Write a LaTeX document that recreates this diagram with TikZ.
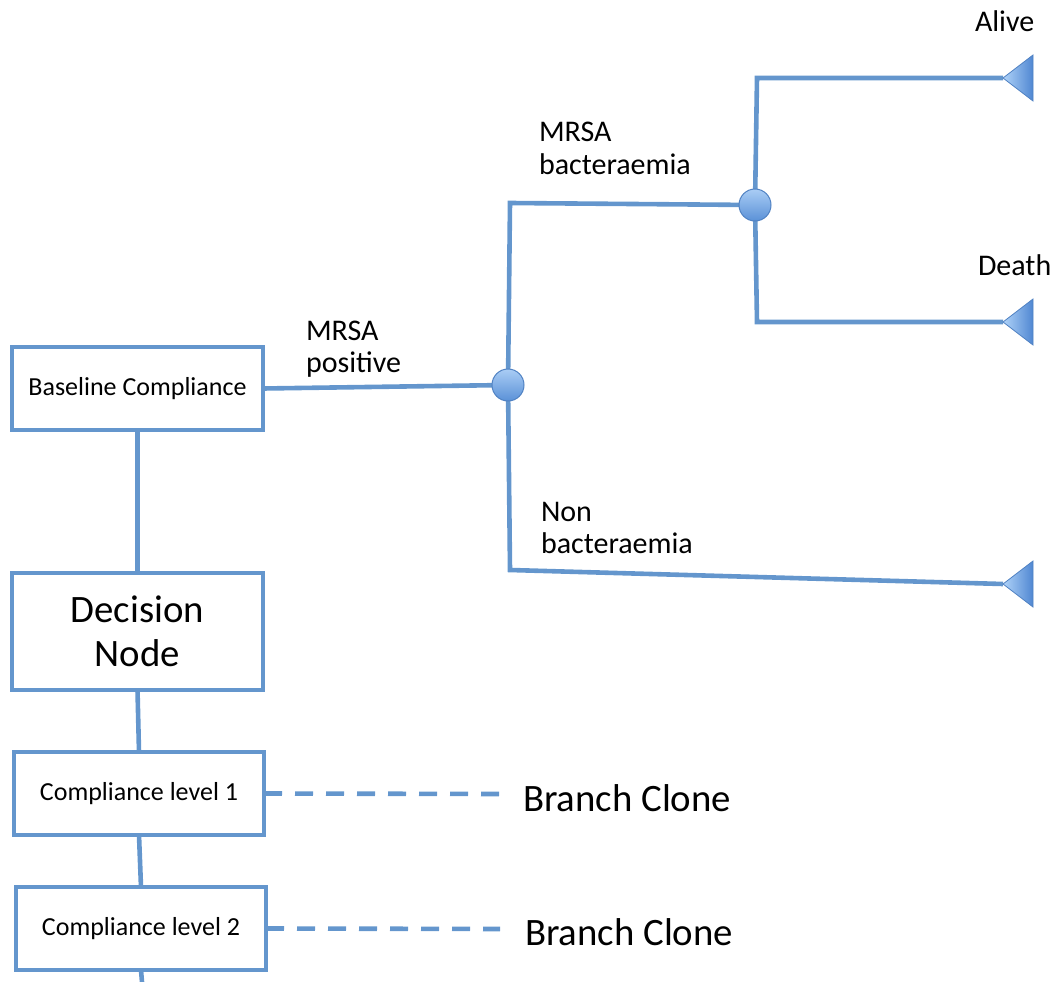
\documentclass[tikz,border=0pt]{standalone}
\usepackage{fontspec}
\setmainfont{Carlito}
\begin{document}
\begin{tikzpicture}[x=1pt,y=-1pt,
  every node/.style={inner sep=0pt, outer sep=0pt},
  line/.style={draw=lblue, line width=4.6pt},
  dline/.style={draw=lblue, line width=4.6pt, dash pattern=on 18pt off 13pt},
  box/.style={draw=lblue, line width=4.6pt, fill=white, minimum width=251pt, minimum height=83pt, align=center},
  small/.style={font=\fontsize{26}{30}\selectfont},
  chance/.style={circle, draw=cborder, line width=1pt, minimum size=32pt, top color=ctop, bottom color=cbot},
  term/.style={draw=cborder, line width=0.8pt, left color=ttop, right color=tbot},
  lab/.style={font=\fontsize{30}{33}\selectfont, anchor=base west},
  big/.style={font=\fontsize{38.8}{44}\selectfont}
]
\definecolor{lblue}{RGB}{100,150,205}
\definecolor{cborder}{RGB}{80,130,195}
\definecolor{ctop}{RGB}{170,205,245}
\definecolor{cbot}{RGB}{90,145,215}
\definecolor{ttop}{RGB}{175,210,248}
\definecolor{tbot}{RGB}{80,135,210}
\useasboundingbox (0,0) rectangle (1061,982);

% boxes
\node[box, small] (base) at (137.5,388.5) {Baseline Compliance};
\node[box, minimum height=117pt, big] (dec) at (137.5,631.5) {Decision\\Node};
\node[box, minimum width=250pt, small] (cl1) at (139,793.5) {Compliance level 1};
\node[box, minimum width=250pt, small] (cl2) at (141,928.5) {Compliance level 2};

% coordinates
\coordinate (ch1) at (508,385);
\coordinate (ch2) at (755,205);
\coordinate (k1) at (510,203);
\coordinate (k2) at (757,78);
\coordinate (k3) at (757,322);
\coordinate (k4) at (510,570);
\coordinate (t1) at (1003,78);
\coordinate (t2) at (1003,322);
\coordinate (t3) at (1003,584);
\coordinate (bot) at (142,982);
\coordinate (d1) at (500,794);
\coordinate (d2) at (500,929);

% connectors
\draw[line] (base.east) -- (ch1);
\draw[line] (ch1) -- (k1) -- (ch2);
\draw[line] (ch2) -- (k2) -- (t1);
\draw[line] (ch2) -- (k3) -- (t2);
\draw[line] (ch1) -- (k4) -- (t3);
\draw[line] (base.south) -- (dec.north);
\draw[line] (dec.south) -- (cl1.north);
\draw[line] (cl1.south) -- (cl2.north);
\draw[line] (cl2.south) -- (bot);
\draw[dline] (cl1.east) -- (d1);
\draw[dline] (cl2.east) -- (d2);

% chance nodes
\node[chance] (n1) at (ch1) {};
\node[chance] (n2) at (ch2) {};

% terminal nodes
\path[term] (t1) -- ++(30,-23) -- ++(0,46) -- cycle;
\path[term] (t2) -- ++(30,-23) -- ++(0,46) -- cycle;
\path[term] (t3) -- ++(30,-23) -- ++(0,46) -- cycle;

% labels
\node[lab] (la1) at (975,32) {Alive};
\node[lab] (la2) at (978,275) {Death};
\node[lab] (lb1) at (539,142) {MRSA};
\node[lab] (lb2) at (539,174) {bacteraemia};
\node[lab] (lp1) at (306,340) {MRSA};
\node[lab] (lp2) at (306,372) {positive};
\node[lab] (ln1) at (541,521) {Non};
\node[lab] (ln2) at (541,553) {bacteraemia};
\node[big, anchor=base west] (bc1) at (523,811) {Branch Clone};
\node[big, anchor=base west] (bc2) at (525,945) {Branch Clone};
\end{tikzpicture}
\end{document}
